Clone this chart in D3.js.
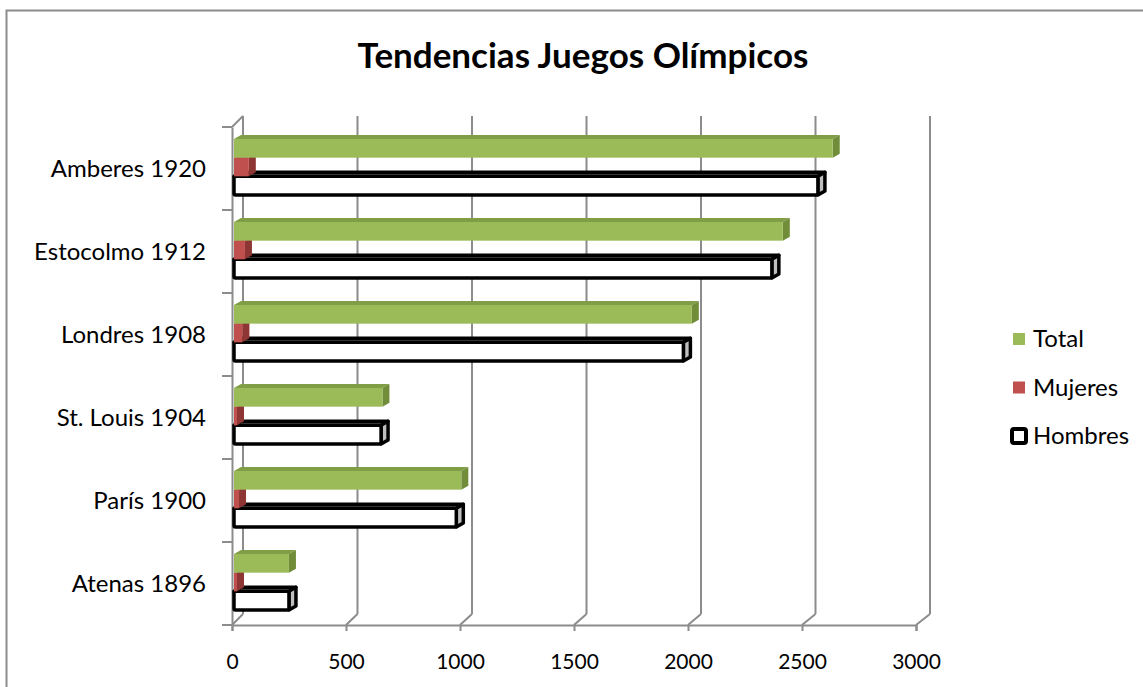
<!DOCTYPE html>
<html>
<head>
<meta charset="utf-8">
<script src="https://cdn.jsdelivr.net/npm/d3@7"></script>
<style>
  body { margin: 0; background: #fff; }
  text { font-family: Lato, "Open Sans", sans-serif; fill: #000; }
</style>
</head>
<body>
<main></main>
<script>
const width = 1143;
const height = 687;

// data, top category first
const categories = ['Amberes 1920', 'Estocolmo 1912', 'Londres 1908', 'St. Louis 1904', 'París 1900', 'Atenas 1896'];
const series = ['Total', 'Mujeres', 'Hombres'];
const total = [2626, 2407, 2008, 651, 997, 241];
const mujeres = [65, 48, 37, 6, 22, 0];
const hombres = [2561, 2359, 1971, 645, 975, 241];
const xTicks = [0, 500, 1000, 1500, 2000, 2500, 3000];

const values = {Total: total, Mujeres: mujeres, Hombres: hombres};

const colors = {
  Total: {front: '#9BBB59', top: '#7F9E45', side: '#718D3A', stroke: 'none'},
  Mujeres: {front: '#C0504D', top: '#A7413E', side: '#8E3633', stroke: 'none'},
  Hombres: {front: '#ffffff', top: '#d9d9d9', side: '#bfbfbf', stroke: '#000'}
};

const svg = d3.select('main').append('svg')
  .attr('width', width)
  .attr('height', height);

// outer chart border (only top and left are in view)
svg.append('path')
  .attr('d', 'M6.5,687 V10.5 H1143')
  .attr('fill', 'none')
  .attr('stroke', '#8c8c8c')
  .attr('stroke-width', 2);

// title
svg.append('text')
  .attr('x', 583)
  .attr('y', 68)
  .attr('text-anchor', 'middle')
  .style('font-weight', 'bold')
  .style('font-size', '35px')
  .text('Tendencias Juegos Olímpicos');

// scales: front plane and back wall
const x = d3.scaleLinear().domain([0, 3000]).range([232, 916]);
const xBack = d3.scaleLinear().domain([0, 3000]).range([243, 930]);
const y = d3.scaleBand().domain(categories).range([127, 625]);
const ySer = d3.scaleBand().domain(series).range([12, 68]);
const wallDY = -11;

const gridColor = '#8c8c8c';

// back wall gridlines
svg.append('g').selectAll('line')
  .data(xTicks)
  .join('line')
  .attr('x1', d => xBack(d)).attr('x2', d => xBack(d))
  .attr('y1', y.range()[0] + wallDY).attr('y2', y.range()[1] + wallDY)
  .attr('stroke', gridColor)
  .attr('stroke-width', 2);

// floor diagonals from front ticks to back gridlines
svg.append('g').selectAll('line')
  .data(xTicks)
  .join('line')
  .attr('x1', d => x(d)).attr('y1', y.range()[1])
  .attr('x2', d => xBack(d)).attr('y2', y.range()[1] + wallDY)
  .attr('stroke', gridColor)
  .attr('stroke-width', 2);

// front value axis
const xAxis = svg.append('g')
  .attr('transform', `translate(0,${y.range()[1]})`)
  .call(d3.axisBottom(x).tickValues(xTicks).tickSize(6).tickPadding(23).tickFormat(d3.format('d')));
xAxis.select('.domain').attr('stroke', gridColor).attr('stroke-width', 2);
xAxis.selectAll('.tick line').attr('stroke', gridColor).attr('stroke-width', 2);
xAxis.selectAll('.tick text').style('font-size', '21px').style('font-family', 'Lato, sans-serif').attr('fill', '#000');

// front category axis
const yAxis = svg.append('g')
  .attr('transform', `translate(${x(0)},0)`)
  .call(d3.axisLeft(y).tickSize(0).tickPadding(26));
yAxis.select('.domain').attr('stroke', gridColor).attr('stroke-width', 2);
yAxis.selectAll('.tick text').style('font-size', '24px').style('font-family', 'Lato, sans-serif').attr('fill', '#000').attr('dy', '0.35em');

// category separator ticks
const bounds = categories.map(c => y(c)).concat([y.range()[1]]);
svg.append('g').selectAll('line')
  .data(bounds)
  .join('line')
  .attr('x1', x(0) - 10).attr('x2', x(0))
  .attr('y1', d => d).attr('y2', d => d)
  .attr('stroke', gridColor)
  .attr('stroke-width', 2);

// top-left corner diagonal
svg.append('line')
  .attr('x1', x(0)).attr('y1', y.range()[0])
  .attr('x2', xBack(0)).attr('y2', y.range()[0] + wallDY)
  .attr('stroke', gridColor)
  .attr('stroke-width', 2);

// 3D bars
const bdx = 7, bdy = -4, off = 2;
const minW = 3;
const barData = [];
categories.forEach((c, i) => {
  series.forEach(s => barData.push({cat: c, ser: s, value: values[s][i], idx: i}));
});
// draw bottom categories first, and within a category the lower series first
barData.sort((a, b) => (b.idx - a.idx) || (series.indexOf(b.ser) - series.indexOf(a.ser)));

const bars = svg.append('g').selectAll('g')
  .data(barData)
  .join('g');

bars.each(function(d) {
  const g = d3.select(this);
  const x0 = x(0) + off;
  const x1 = Math.max(x(d.value) + off, x0 + minW);
  const y0 = y(d.cat) + ySer(d.ser);
  const y1 = y0 + ySer.bandwidth();
  const c = colors[d.ser];
  const sw = d.ser === 'Hombres' ? 3.5 : 0;
  const pts = p => p.map(q => q.join(',')).join(' ');
  // top face
  g.append('polygon')
    .attr('points', pts([[x0, y0], [x0 + bdx, y0 + bdy], [x1 + bdx, y0 + bdy], [x1, y0]]))
    .attr('fill', c.top).attr('stroke', c.stroke).attr('stroke-width', sw).attr('stroke-linejoin', 'round');
  // side face
  g.append('polygon')
    .attr('points', pts([[x1, y0], [x1 + bdx, y0 + bdy], [x1 + bdx, y1 + bdy], [x1, y1]]))
    .attr('fill', c.side).attr('stroke', c.stroke).attr('stroke-width', sw).attr('stroke-linejoin', 'round');
  // front face
  g.append('rect')
    .attr('x', x0).attr('y', y0)
    .attr('width', x1 - x0).attr('height', y1 - y0)
    .attr('rx', d.ser === 'Hombres' ? 1.5 : 0)
    .attr('fill', c.front).attr('stroke', c.stroke).attr('stroke-width', sw).attr('stroke-linejoin', 'round');
});

// legend
const legend = svg.append('g')
  .selectAll('g')
  .data(series)
  .join('g')
  .attr('transform', (d, i) => `translate(1013,${339 + i * 48.5})`);

legend.append('rect')
  .attr('x', d => d === 'Hombres' ? -1 : 0)
  .attr('y', d => d === 'Hombres' ? -7 : -6)
  .attr('width', d => d === 'Hombres' ? 14 : 12)
  .attr('height', d => d === 'Hombres' ? 14 : 12)
  .attr('rx', d => d === 'Hombres' ? 2 : 0)
  .attr('fill', d => colors[d].front)
  .attr('stroke', d => d === 'Hombres' ? '#000' : 'none')
  .attr('stroke-width', 4);

legend.append('text')
  .attr('x', 20)
  .attr('dy', '0.35em')
  .style('font-size', '24px')
  .text(d => d);
</script>
</body>
</html>
